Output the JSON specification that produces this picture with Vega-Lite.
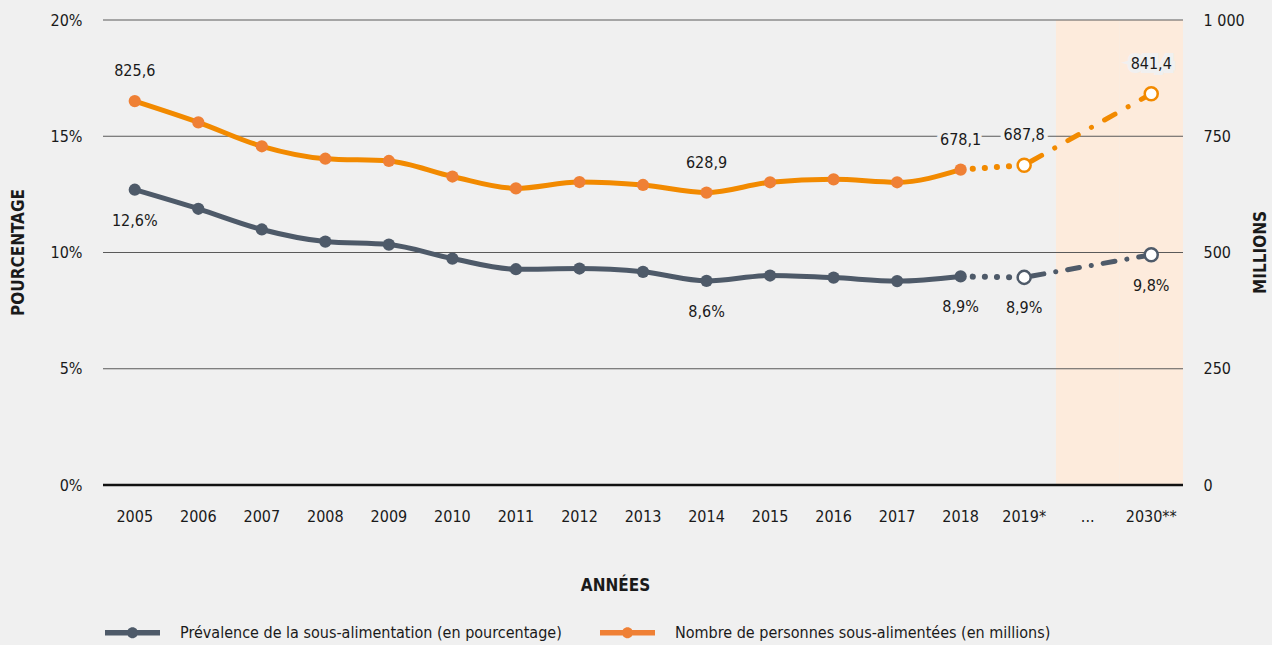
{
  "$schema": "https://vega.github.io/schema/vega-lite/v6.json",
  "width": 1080,
  "height": 465,
  "autosize": "none",
  "padding": {"left": 103, "top": 20, "right": 89, "bottom": 160},
  "background": "#f0f0f0",
  "config": {
    "font": "DejaVu Sans Condensed, Liberation Sans, sans-serif",
    "view": {"stroke": null},
    "axis": {"labelFont": "DejaVu Sans Condensed, Liberation Sans, sans-serif", "labelFontSize": 16, "labelColor": "#1a1a1a", "titleFont": "DejaVu Sans Condensed, Liberation Sans, sans-serif", "titleFontSize": 17, "titleFontWeight": "bold", "titleColor": "#1a1a1a", "domain": false, "ticks": false, "grid": false},
    "legend": {"labelFont": "DejaVu Sans Condensed, Liberation Sans, sans-serif", "labelFontSize": 16, "labelColor": "#1a1a1a"},
    "text": {"font": "DejaVu Sans Condensed, Liberation Sans, sans-serif"}
  },
  "datasets": {
    "d": [
      {"year": "2005", "pct": 12.7, "mil": 825.6, "labP": "12,6%", "labM": "825,6"},
      {"year": "2006", "pct": 11.88, "mil": 780},
      {"year": "2007", "pct": 10.99, "mil": 728.4},
      {"year": "2008", "pct": 10.47, "mil": 701.7},
      {"year": "2009", "pct": 10.34, "mil": 696.8},
      {"year": "2010", "pct": 9.74, "mil": 663.4},
      {"year": "2011", "pct": 9.28, "mil": 638},
      {"year": "2012", "pct": 9.31, "mil": 651.6},
      {"year": "2013", "pct": 9.17, "mil": 645.2},
      {"year": "2014", "pct": 8.78, "mil": 628.9, "labP": "8,6%", "labM": "628,9"},
      {"year": "2015", "pct": 9.01, "mil": 651},
      {"year": "2016", "pct": 8.92, "mil": 657.4},
      {"year": "2017", "pct": 8.77, "mil": 651},
      {"year": "2018", "pct": 8.97, "mil": 678.1, "labP": "8,9%", "labM": "678,1"},
      {"year": "2019*", "pct": 8.93, "mil": 687.8, "labP": "8,9%", "labM": "687,8"},
      {"year": "2030**", "pct": 9.9, "mil": 841.4, "labP": "9,8%", "labM": "841,4"}
    ]
  },
  "resolve": {"scale": {"y": "independent"}},
  "layer": [
    {
      "layer": [
        {
          "data": {"values": [{"year": "..."}, {"year": "2030**"}]},
          "mark": {"type": "rect", "color": "#fdebdc"},
          "encoding": {
            "x": {
              "field": "year", "type": "nominal",
              "scale": {"type": "band", "domain": ["2005","2006","2007","2008","2009","2010","2011","2012","2013","2014","2015","2016","2017","2018","2019*","...","2030**"], "paddingInner": 0, "paddingOuter": 0},
              "axis": {"title": "ANNÉES", "labelAngle": 0, "labelPadding": 23, "titleX": 512, "titleY": 100, "titleBaseline": "middle"}
            }
          }
        },
        {
          "data": {"values": [{"pct": 0}, {"pct": 5}, {"pct": 10}, {"pct": 15}, {"pct": 20}]},
          "mark": {"type": "rule"},
          "encoding": {
            "y": {"field": "pct", "type": "quantitative", "scale": {"domain": [0, 20], "nice": false, "zero": true},
              "axis": {"title": "POURCENTAGE", "values": [0, 5, 10, 15, 20], "labelExpr": "datum.value + '%'", "labelPadding": 21, "titleX": -85, "titleY": 232, "titleAngle": -90, "titleBaseline": "middle", "titleAlign": "center"}},
            "color": {"condition": {"test": "datum.pct === 0", "value": "#111111"}, "value": "#5a5a5a"},
            "strokeWidth": {"condition": {"test": "datum.pct === 0", "value": 2.5}, "value": 1}
          }
        },
        {
          "data": {"name": "d"},
          "transform": [{"filter": {"field": "year", "oneOf": ["2005","2006","2007","2008","2009","2010","2011","2012","2013","2014","2015","2016","2017","2018"]}}],
          "mark": {"type": "line", "interpolate": "monotone", "strokeWidth": 5, "color": "#4e5a69"},
          "encoding": {"x": {"field": "year", "type": "nominal", "bandPosition": 0.5}, "y": {"field": "pct", "type": "quantitative"}}
        },
        {
          "data": {"name": "d"},
          "transform": [{"filter": {"field": "year", "oneOf": ["2018", "2019*"]}}],
          "mark": {"type": "line", "strokeWidth": 6, "color": "#4e5a69", "strokeDash": [0.1, 12], "strokeCap": "round"},
          "encoding": {"x": {"field": "year", "type": "nominal", "bandPosition": 0.5}, "y": {"field": "pct", "type": "quantitative"}}
        },
        {
          "data": {"name": "d"},
          "transform": [{"filter": {"field": "year", "oneOf": ["2019*", "2030**"]}}],
          "mark": {"type": "line", "strokeWidth": 5, "color": "#4e5a69", "strokeDash": [12, 12, 0.1, 12], "strokeDashOffset": -8, "strokeCap": "round"},
          "encoding": {"x": {"field": "year", "type": "nominal", "bandPosition": 0.5}, "y": {"field": "pct", "type": "quantitative"}}
        },
        {
          "data": {"name": "d"},
          "transform": [{"filter": {"field": "year", "oneOf": ["2005","2006","2007","2008","2009","2010","2011","2012","2013","2014","2015","2016","2017","2018"]}}],
          "mark": {"type": "circle", "size": 150, "opacity": 1},
          "encoding": {
            "x": {"field": "year", "type": "nominal", "bandPosition": 0.5},
            "y": {"field": "pct", "type": "quantitative"},
            "color": {
              "datum": "Prévalence de la sous-alimentation (en pourcentage)",
              "scale": {"domain": ["Prévalence de la sous-alimentation (en pourcentage)", "Nombre de personnes sous-alimentées (en millions)"], "range": ["#4e5a69", "#ef8035"]},
              "legend": {"title": null, "orient": "none", "direction": "horizontal", "legendX": 2, "legendY": 585, "padding": 0, "symbolType": "M-1,-0.1L-0.17,-0.1L-0.17,0.1L-1,0.1Z M0.17,-0.1L1,-0.1L1,0.1L0.17,0.1Z M-0.2,0A0.2,0.2 0 1,1 0.2,0A0.2,0.2 0 1,1 -0.2,0Z", "symbolSize": 3025, "symbolStrokeWidth": 0, "symbolOpacity": 1, "labelOffset": 20, "columnPadding": 38, "labelLimit": 600}
            }
          }
        },
        {
          "data": {"name": "d"},
          "transform": [{"filter": {"field": "year", "oneOf": ["2019*", "2030**"]}}],
          "mark": {"type": "point", "size": 170, "filled": false, "fill": "#ffffff", "fillOpacity": 1, "stroke": "#4e5a69", "strokeWidth": 2.5, "opacity": 1},
          "encoding": {"x": {"field": "year", "type": "nominal", "bandPosition": 0.5}, "y": {"field": "pct", "type": "quantitative"}}
        },
        {
          "data": {"name": "d"},
          "transform": [{"filter": "datum.labP"}],
          "mark": {"type": "text", "fontSize": 16, "dy": 31, "color": "#1a1a1a", "baseline": "middle"},
          "encoding": {"x": {"field": "year", "type": "nominal", "bandPosition": 0.5}, "y": {"field": "pct", "type": "quantitative"}, "text": {"field": "labP"}}
        }
      ]
    },
    {
      "layer": [
        {
          "data": {"name": "d"},
          "transform": [{"filter": {"field": "year", "oneOf": ["2005","2006","2007","2008","2009","2010","2011","2012","2013","2014","2015","2016","2017","2018"]}}],
          "mark": {"type": "line", "interpolate": "monotone", "strokeWidth": 5, "color": "#f28a00"},
          "encoding": {
            "x": {"field": "year", "type": "nominal", "bandPosition": 0.5},
            "y": {"field": "mil", "type": "quantitative", "scale": {"domain": [0, 1000], "nice": false},
              "axis": {"orient": "right", "title": "MILLIONS", "values": [0, 250, 500, 750, 1000], "labelExpr": "datum.value >= 1000 ? '1 000' : datum.label", "labelPadding": 20, "titleX": 77, "titleY": 232, "titleAngle": -90, "titleBaseline": "middle", "titleAlign": "center"}}
          }
        },
        {
          "data": {"name": "d"},
          "transform": [{"filter": {"field": "year", "oneOf": ["2018", "2019*"]}}],
          "mark": {"type": "line", "strokeWidth": 6, "color": "#f28a00", "strokeDash": [0.1, 12], "strokeCap": "round"},
          "encoding": {"x": {"field": "year", "type": "nominal", "bandPosition": 0.5}, "y": {"field": "mil", "type": "quantitative"}}
        },
        {
          "data": {"name": "d"},
          "transform": [{"filter": {"field": "year", "oneOf": ["2019*", "2030**"]}}],
          "mark": {"type": "line", "strokeWidth": 5, "color": "#f28a00", "strokeDash": [12, 15, 0.1, 15], "strokeDashOffset": -8, "strokeCap": "round"},
          "encoding": {"x": {"field": "year", "type": "nominal", "bandPosition": 0.5}, "y": {"field": "mil", "type": "quantitative"}}
        },
        {
          "data": {"name": "d"},
          "transform": [{"filter": {"field": "year", "oneOf": ["2005","2006","2007","2008","2009","2010","2011","2012","2013","2014","2015","2016","2017","2018"]}}],
          "mark": {"type": "circle", "size": 150, "opacity": 1},
          "encoding": {
            "x": {"field": "year", "type": "nominal", "bandPosition": 0.5},
            "y": {"field": "mil", "type": "quantitative"},
            "color": {"datum": "Nombre de personnes sous-alimentées (en millions)"}
          }
        },
        {
          "data": {"name": "d"},
          "transform": [{"filter": {"field": "year", "oneOf": ["2019*", "2030**"]}}],
          "mark": {"type": "point", "size": 170, "filled": false, "fill": "#ffffff", "fillOpacity": 1, "stroke": "#f28a00", "strokeWidth": 2.5, "opacity": 1},
          "encoding": {"x": {"field": "year", "type": "nominal", "bandPosition": 0.5}, "y": {"field": "mil", "type": "quantitative"}}
        },
        {
          "data": {"name": "d"},
          "transform": [{"filter": "datum.labM"}],
          "mark": {"type": "text", "fontSize": 16, "dy": -30, "stroke": "#f0f0f0", "strokeWidth": 8, "color": "#f0f0f0", "baseline": "middle"},
          "encoding": {"x": {"field": "year", "type": "nominal", "bandPosition": 0.5}, "y": {"field": "mil", "type": "quantitative"}, "text": {"field": "labM"}}
        },
        {
          "data": {"name": "d"},
          "transform": [{"filter": "datum.labM"}],
          "mark": {"type": "text", "fontSize": 16, "dy": -30, "color": "#1a1a1a", "baseline": "middle"},
          "encoding": {"x": {"field": "year", "type": "nominal", "bandPosition": 0.5}, "y": {"field": "mil", "type": "quantitative"}, "text": {"field": "labM"}}
        }
      ]
    }
  ]
}
